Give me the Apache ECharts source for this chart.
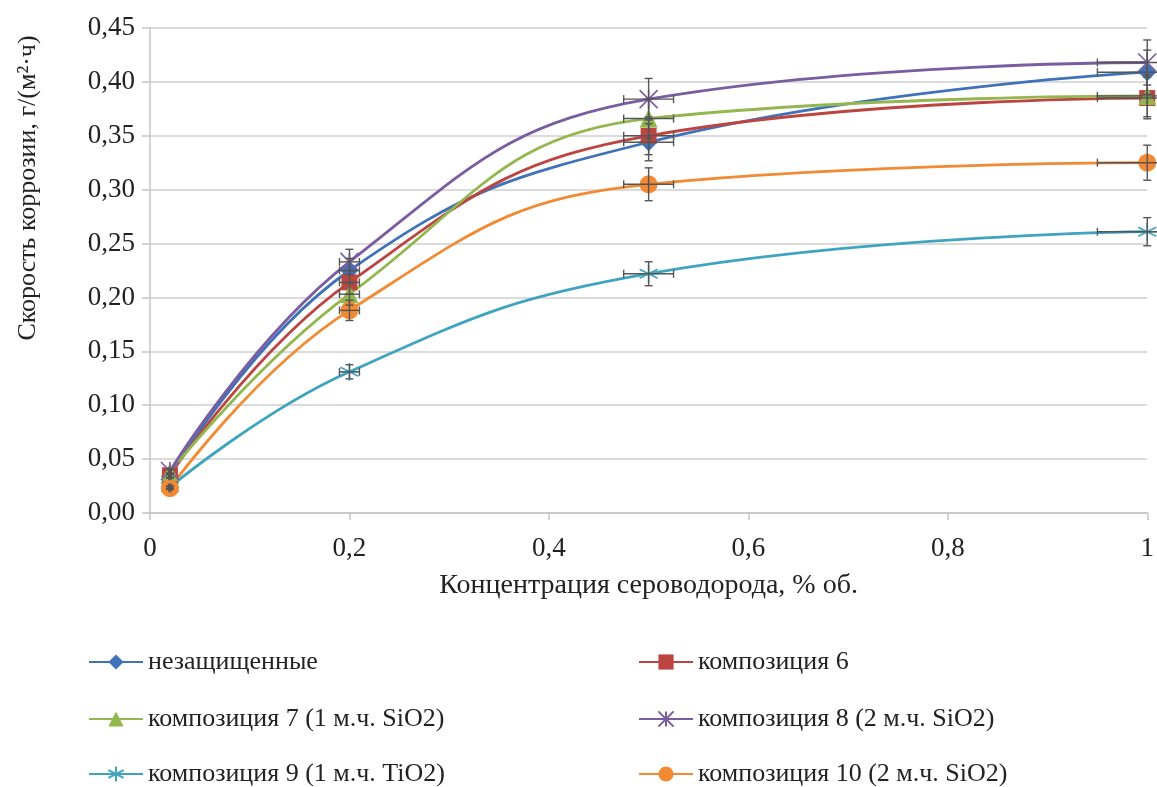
<!DOCTYPE html>
<html>
<head>
<meta charset="utf-8">
<script src="https://cdn.jsdelivr.net/npm/echarts@6/dist/echarts.min.js"></script>
<style>
  html, body { margin: 0; padding: 0; background: #fff; }
  #chart { width: 1157px; height: 787px; }
</style>
</head>
<body>
<div id="chart"></div>
<script>
// концентрация H2S, % об.
var conc = [0.02, 0.2, 0.5, 1];
// скорость коррозии по сериям
var unprotected = [0.034, 0.225, 0.344, 0.409];
var comp6 = [0.035, 0.214, 0.350, 0.385];
var comp7 = [0.038, 0.203, 0.366, 0.387];
var comp8 = [0.039, 0.233, 0.384, 0.418];
var comp9 = [0.024, 0.131, 0.222, 0.261];
var comp10 = [0.023, 0.188, 0.305, 0.325];
var seriesNames = ['незащищенные', 'композиция 6', 'композиция 7 (1 м.ч. SiO2)',
  'композиция 8 (2 м.ч. SiO2)', 'композиция 9 (1 м.ч. TiO2)', 'композиция 10 (2 м.ч. SiO2)'];
var errPct = 0.05; // погрешность 5%

var chart = echarts.init(document.getElementById('chart'));
var serif = 'Liberation Serif';

var allValues = [unprotected, comp6, comp7, comp8, comp9, comp10];
var colors = ['#3f72b8', '#bd4541', '#93b74e', '#7a5ca0', '#3fa4c0', '#f28a34'];
var symbols = [
  'diamond', 'rect', 'triangle',
  'path://M0,0L10,10M10,0L0,10M5,0L5,10',
  'path://M5,0L5,10M0,2.5L10,7.5M10,2.5L0,7.5M0,5L10,5',
  'circle'
];

function pts(vals) {
  return conc.map(function (x, i) { return [x, vals[i]]; });
}

var series = allValues.map(function (vals, k) {
  var lineSym = k === 3 || k === 4;
  return {
    name: seriesNames[k],
    type: 'line',
    smooth: 0.45,
    data: pts(vals),
    symbol: symbols[k],
    symbolSize: k === 1 ? 16 : 18,
    lineStyle: { color: colors[k], width: 2.8 },
    itemStyle: lineSym
      ? { color: colors[k], borderColor: colors[k], borderWidth: 1.6 }
      : { color: colors[k] },
    z: 3
  };
});

// планки погрешностей
var errData = [];
allValues.forEach(function (vals) {
  pts(vals).forEach(function (p) { errData.push(p); });
});
series.push({
  type: 'custom',
  silent: true,
  z: 4,
  data: errData,
  renderItem: function (params, api) {
    var x = api.value(0), y = api.value(1);
    var t = api.coord([x, y * (1 + errPct)]);
    var b = api.coord([x, y * (1 - errPct)]);
    var l = api.coord([x * (1 - errPct), y]);
    var r = api.coord([x * (1 + errPct), y]);
    var cap = 4;
    var st = { stroke: '#555', lineWidth: 1.4 };
    return {
      type: 'group',
      children: [
        { type: 'line', shape: { x1: t[0], y1: t[1], x2: b[0], y2: b[1] }, style: st },
        { type: 'line', shape: { x1: t[0] - cap, y1: t[1], x2: t[0] + cap, y2: t[1] }, style: st },
        { type: 'line', shape: { x1: b[0] - cap, y1: b[1], x2: b[0] + cap, y2: b[1] }, style: st },
        { type: 'line', shape: { x1: l[0], y1: l[1], x2: r[0], y2: r[1] }, style: st },
        { type: 'line', shape: { x1: l[0], y1: l[1] - cap, x2: l[0], y2: l[1] + cap }, style: st },
        { type: 'line', shape: { x1: r[0], y1: r[1] - cap, x2: r[0], y2: r[1] + cap }, style: st }
      ]
    };
  }
});

// легенда: две колонки, три строки
var legendText = { fontFamily: serif, fontSize: 26, color: '#222' };
var legendLeft = [88, 638];
var legendTop = [649, 706, 761];
var legends = seriesNames.map(function (n, k) {
  return {
    data: [n],
    left: legendLeft[k % 2],
    top: legendTop[Math.floor(k / 2)],
    padding: 0,
    itemWidth: 54, itemHeight: 19, itemGap: 4,
    textStyle: legendText
  };
});

var option = {
  animation: false,
  backgroundColor: '#fff',
  grid: { left: 150, right: 5, top: 28, bottom: 274 },
  legend: legends,
  graphic: [{
    type: 'text',
    x: 28, y: 188,
    rotation: Math.PI / 2,
    style: {
      text: 'Скорость коррозии, г/(м²·ч)',
      fontFamily: serif, fontSize: 26, fill: '#222',
      align: 'center', verticalAlign: 'middle'
    }
  }],
  xAxis: {
    type: 'value',
    min: 0, max: 1, interval: 0.2,
    name: 'Концентрация сероводорода, % об.',
    nameLocation: 'middle',
    nameGap: 59,
    nameTextStyle: { fontFamily: serif, fontSize: 28, color: '#222' },
    axisLine: { lineStyle: { color: '#c4c4c4', width: 1.5 } },
    axisTick: { show: true, length: 7, lineStyle: { color: '#c4c4c4', width: 1.5 } },
    splitLine: { show: false },
    axisLabel: {
      margin: 22,
      fontFamily: serif, fontSize: 27, color: '#222',
      formatter: function (v) {
        if (v === 0 || v === 1) return String(v);
        return v.toFixed(1).replace('.', ',');
      }
    }
  },
  yAxis: {
    type: 'value',
    min: 0, max: 0.45, interval: 0.05,
    axisLine: { show: true, lineStyle: { color: '#c4c4c4', width: 1.5 } },
    axisTick: { show: true, length: 8, lineStyle: { color: '#c4c4c4', width: 1.5 } },
    splitLine: { lineStyle: { color: '#cfcfcf', width: 1.5 } },
    axisLabel: {
      margin: 15,
      fontFamily: serif, fontSize: 27, color: '#222',
      formatter: function (v) { return v.toFixed(2).replace('.', ','); }
    }
  },
  series: series
};

chart.setOption(option);
</script>
</body>
</html>
